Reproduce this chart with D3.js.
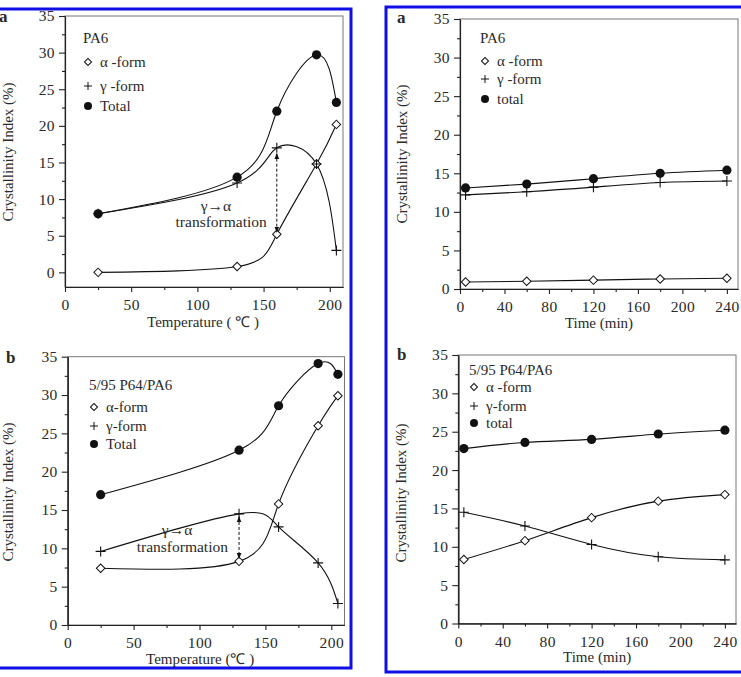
<!DOCTYPE html>
<html>
<head>
<meta charset="utf-8">
<script src="https://cdn.jsdelivr.net/npm/d3@7"></script>
<style>
  body { margin: 0; background: #fff; }
  text { font-family: "Liberation Serif", "Times New Roman", serif; fill: #2a2a2a; }
</style>
</head>
<body>
<div id="chart"></div>
<script>
// temperature series (a, b on the left) and time series (a, b on the right)
const tempX = [25, 130, 160, 190, 205];
const pa6TempAlpha = [0, 0.8, 5.2, 14.8, 20.2];
const pa6TempGamma = [8, 12.2, 17, 14.8, 3];
const pa6TempTotal = [8, 13, 22, 29.7, 23.2];
const blendTempAlpha = [7.4, 8.3, 15.8, 26, 29.9];
const blendTempGamma = [9.6, 14.5, 12.8, 8.1, 2.8];
const blendTempTotal = [17, 22.8, 28.6, 34.1, 32.7];

const timeX = [5, 60, 120, 180, 240];
const pa6TimeAlpha = [0.9, 1.0, 1.15, 1.3, 1.4];
const pa6TimeGamma = [12.2, 12.6, 13.2, 13.8, 14.0];
const pa6TimeTotal = [13.1, 13.6, 14.3, 15.0, 15.4];
const blendTimeAlpha = [8.35, 10.8, 13.8, 15.95, 16.8];
const blendTimeGamma = [14.5, 12.7, 10.3, 8.7, 8.3];
const blendTimeTotal = [22.8, 23.6, 24.0, 24.7, 25.2];

// ticks
const yTicks = [0, 5, 10, 15, 20, 25, 30, 35];
const yMinor = [2.5, 7.5, 12.5, 17.5, 22.5, 27.5, 32.5];
const tempTicks = [0, 50, 100, 150, 200];
const tempMinor = [25, 75, 125, 175];
const timeTicks = [0, 40, 80, 120, 160, 200, 240];
const timeMinor = [20, 60, 100, 140, 180, 220];

const legendPa6 = ["α -form", "γ -form", "Total"];
const legendBlend = ["α-form", "γ-form", "Total"];
const legendPa6Time = ["α -form", "γ -form", "total"];
const legendBlendTime = ["α -form", "γ-form", "total"];

// gamma -> alpha arrows: [x, yTop, yBottom]
const arrowA = [160, 16.2, 5.5];
const arrowB = [130, 14.1, 8.7];

const width = 741, height = 677;

let svg = d3.select("#chart").append("svg")
    .attr("width", width)
    .attr("height", height);

svg.append("defs").append("marker")
    .attr("id", "head")
    .attr("viewBox", "0 0 10 10")
    .attr("refX", 9).attr("refY", 5)
    .attr("markerWidth", 6).attr("markerHeight", 6)
    .attr("markerUnits", "userSpaceOnUse")
    .attr("orient", "auto-start-reverse")
    .append("path")
    .attr("d", "M0,1L10,5L0,9Z")
    .attr("fill", "#111");

// blue frames
svg.append("rect")
    .attr("x", -10).attr("y", 9).attr("width", 361).attr("height", 659)
    .attr("fill", "none").attr("stroke", "#1010e6").attr("stroke-width", 3);
svg.append("rect")
    .attr("x", 386).attr("y", 7).attr("width", 370).attr("height", 665)
    .attr("fill", "none").attr("stroke", "#1010e6").attr("stroke-width", 3);

const plusPath = "M-5,0H5M0,-5V5";

function drawPanel(p) {
    const xScale = d3.scaleLinear().domain(p.xDomain).range([p.left, p.right]);
    const yScale = d3.scaleLinear().domain(p.yDomain).range([p.bottom, p.top]);
    const g = svg.append("g");

    g.append("rect")
        .attr("x", p.left).attr("y", p.top)
        .attr("width", p.right - p.left).attr("height", p.bottom - p.top)
        .attr("fill", "none").attr("stroke", "#777").attr("stroke-width", 1);

    // minor then major ticks
    g.append("g").attr("class", "axis")
        .attr("transform", `translate(0,${p.bottom})`)
        .call(d3.axisBottom(xScale).tickValues(p.xMinor).tickSize(3).tickSizeOuter(0).tickFormat(""));
    g.append("g").attr("class", "axis")
        .attr("transform", `translate(0,${p.bottom})`)
        .call(d3.axisBottom(xScale).tickValues(p.xTicks).tickSize(5).tickSizeOuter(0).tickPadding(7));
    g.append("g").attr("class", "axis")
        .attr("transform", `translate(${p.left},0)`)
        .call(d3.axisLeft(yScale).tickValues(yMinor).tickSize(3).tickSizeOuter(0).tickFormat(""));
    g.append("g").attr("class", "axis")
        .attr("transform", `translate(${p.left},0)`)
        .call(d3.axisLeft(yScale).tickValues(yTicks).tickSize(6).tickSizeOuter(0).tickPadding(4));

    g.selectAll(".axis path, .axis line").attr("stroke", "#222").attr("stroke-width", 1.1);
    g.selectAll(".axis text")
        .attr("font-size", 15.5).attr("letter-spacing", 0.4);

    // series
    const line = d3.line()
        .x(d => xScale(d[0]))
        .y(d => yScale(d[1]))
        .curve(d3.curveNatural);

    const series = [p.alpha, p.gamma, p.total].map(vals => p.xs.map((v, i) => [v, vals[i]]));
    series.forEach(s => {
        g.append("path").attr("d", line(s))
            .attr("fill", "none").attr("stroke", "#111").attr("stroke-width", 1.1);
    });

    g.selectAll(".alpha").data(series[0]).join("rect")
        .attr("class", "alpha")
        .attr("x", -3).attr("y", -3).attr("width", 6).attr("height", 6)
        .attr("transform", d => `translate(${xScale(d[0])},${yScale(d[1])}) rotate(45)`)
        .attr("fill", "#fff").attr("stroke", "#111").attr("stroke-width", 1);
    g.selectAll(".gamma").data(series[1]).join("path")
        .attr("class", "gamma")
        .attr("d", plusPath)
        .attr("transform", d => `translate(${xScale(d[0])},${yScale(d[1])})`)
        .attr("stroke", "#111").attr("stroke-width", 1.1);
    g.selectAll(".total").data(series[2]).join("circle")
        .attr("class", "total")
        .attr("cx", d => xScale(d[0])).attr("cy", d => yScale(d[1]))
        .attr("r", 4.6).attr("fill", "#111");

    // legend
    const lg = p.legend;
    g.append("text").attr("x", lg.x - 5).attr("y", lg.titleY)
        .attr("font-size", 15).text(p.title);
    g.append("rect")
        .attr("x", -2.5).attr("y", -2.5).attr("width", 5).attr("height", 5)
        .attr("transform", `translate(${lg.x},${lg.rows[0]}) rotate(45)`)
        .attr("fill", "#fff").attr("stroke", "#111");
    g.append("path").attr("d", "M-4,0H4M0,-4V4")
        .attr("transform", `translate(${lg.x},${lg.rows[1]})`)
        .attr("stroke", "#111");
    g.append("circle").attr("cx", lg.x).attr("cy", lg.rows[2]).attr("r", 4).attr("fill", "#111");
    p.labels.forEach((t, i) => {
        g.append("text").attr("x", lg.x + 12).attr("y", lg.rows[i]).attr("dy", "0.33em")
            .attr("font-size", 15).text(t);
    });

    // axis titles and panel letter
    g.append("text")
        .attr("transform", `translate(${p.yTitle[0]},${p.yTitle[1]}) rotate(-90)`)
        .attr("text-anchor", "middle").attr("dy", "0.32em")
        .attr("font-size", 15).text("Crystallinity Index (%)");
    g.append("text")
        .attr("x", (p.left + p.right) / 2 + p.xTitle[0]).attr("y", p.xTitle[1])
        .attr("text-anchor", "middle").attr("font-size", 15).text(p.xLabel);
    g.append("text")
        .attr("x", p.letter[0]).attr("y", p.letter[1])
        .attr("font-size", 17).attr("font-weight", "bold").attr("fill", "#111").text(p.letterText);

    // gamma -> alpha annotation
    if (p.arrow) {
        g.append("line")
            .attr("x1", xScale(p.arrow[0])).attr("x2", xScale(p.arrow[0]))
            .attr("y1", yScale(p.arrow[1])).attr("y2", yScale(p.arrow[2]))
            .attr("stroke", "#111").attr("stroke-width", 1)
            .attr("stroke-dasharray", "3,2")
            .attr("marker-start", "url(#head)").attr("marker-end", "url(#head)");
        g.append("text")
            .attr("x", xScale(p.note[0])).attr("y", yScale(p.note[1]))
            .attr("text-anchor", "middle").attr("font-size", 15.5).text("γ→α");
        g.append("text")
            .attr("x", xScale(p.note[2])).attr("y", yScale(p.note[3]))
            .attr("text-anchor", "middle").attr("font-size", 15.5).text("transformation");
    }
}

drawPanel({
    left: 65, right: 343, top: 16, bottom: 287,
    xDomain: [0, 210], yDomain: [-2, 35],
    xTicks: tempTicks, xMinor: tempMinor,
    xs: tempX, alpha: pa6TempAlpha, gamma: pa6TempGamma, total: pa6TempTotal,
    title: "PA6", labels: legendPa6,
    legend: { x: 88, titleY: 43, rows: [62, 86, 106] },
    yTitle: [8, 152], xTitle: [-1, 327], xLabel: "Temperature ( \u2103 )",
    letter: [-1, 22], letterText: "a",
    arrow: arrowA, note: [114, 8.4, 118, 6.2]
});

drawPanel({
    left: 67.7, right: 344.5, top: 356.7, bottom: 625,
    xDomain: [0, 210], yDomain: [0, 35],
    xTicks: tempTicks, xMinor: tempMinor,
    xs: tempX, alpha: blendTempAlpha, gamma: blendTempGamma, total: blendTempTotal,
    title: "5/95 P64/PA6", labels: legendBlend,
    legend: { x: 94, titleY: 390, rows: [407, 426, 444] },
    yTitle: [8, 492], xTitle: [-6, 664], xLabel: "Temperature (\u2103 )",
    letter: [6, 363], letterText: "b",
    arrow: arrowB, note: [83, 11.7, 87, 9.5]
});

drawPanel({
    left: 460, right: 738, top: 19, bottom: 289,
    xDomain: [0, 250], yDomain: [0, 35],
    xTicks: timeTicks, xMinor: timeMinor,
    xs: timeX, alpha: pa6TimeAlpha, gamma: pa6TimeGamma, total: pa6TimeTotal,
    title: "PA6", labels: legendPa6Time,
    legend: { x: 485, titleY: 43, rows: [61, 79, 99] },
    yTitle: [402, 154], xTitle: [0, 328], xLabel: "Time (min)",
    letter: [397, 23], letterText: "a"
});

drawPanel({
    left: 458.3, right: 736, top: 355, bottom: 623.5,
    xDomain: [0, 250], yDomain: [0, 35],
    xTicks: timeTicks, xMinor: timeMinor,
    xs: timeX, alpha: blendTimeAlpha, gamma: blendTimeGamma, total: blendTimeTotal,
    title: "5/95 P64/PA6", labels: legendBlendTime,
    legend: { x: 474, titleY: 375, rows: [387, 406, 423] },
    yTitle: [401, 493], xTitle: [0, 662], xLabel: "Time (min)",
    letter: [397, 360], letterText: "b"
});
</script>
</body>
</html>
